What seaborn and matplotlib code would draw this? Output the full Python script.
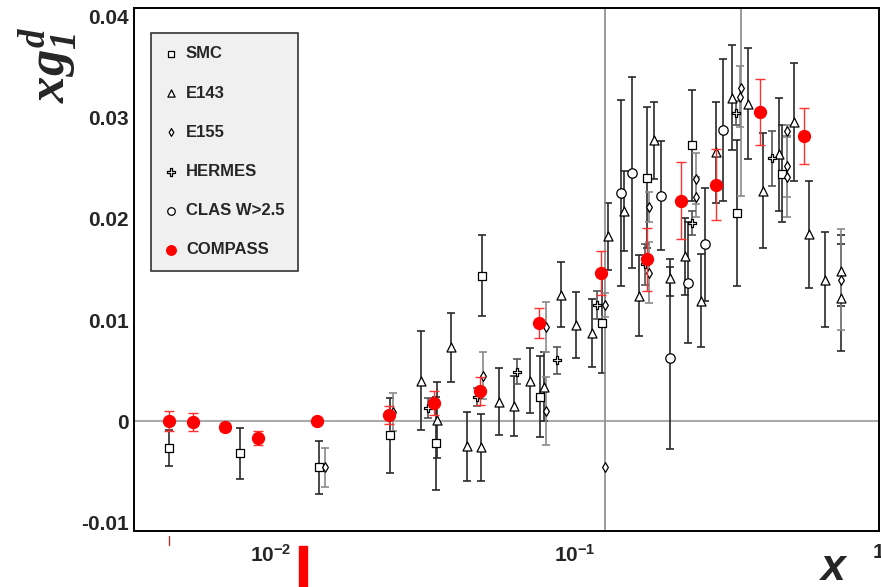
import matplotlib
matplotlib.use("Agg")
import matplotlib.pyplot as plt
from matplotlib.lines import Line2D
from matplotlib.patches import Rectangle
from matplotlib.ticker import MultipleLocator, LogLocator, NullFormatter
import pandas as pd
import seaborn as sns

# ---- data: x, x*g1^d, stat. error ----
smc_x = [0.00462, 0.00791, 0.01439, 0.02463, 0.0349, 0.04946, 0.0767, 0.1227, 0.1725, 0.2426, 0.341, 0.4797]
smc_y = [-0.0027, -0.0032, -0.0046, -0.0014, -0.0022, 0.0144, 0.0024, 0.0097, 0.0241, 0.0273, 0.0206, 0.0245]
smc_err = [0.0018, 0.0025, 0.0026, 0.0037, 0.0046, 0.0040, 0.0040, 0.0049, 0.0070, 0.0055, 0.0072, 0.0048]

e143_x = [0.03114, 0.03517, 0.03909, 0.04413, 0.04908, 0.05623, 0.063, 0.0711, 0.0791, 0.0899,
          0.1008, 0.1137, 0.1284, 0.1449, 0.1623, 0.1819, 0.2054, 0.2301, 0.2597, 0.291,
          0.3284, 0.3708, 0.4154, 0.469, 0.5253, 0.5886, 0.6644, 0.75, 0.75]
e143_y = [0.0040, 0.0001, 0.0073, -0.0025, -0.0026, 0.0019, 0.0015, 0.0040, 0.0034, 0.0125,
          0.0095, 0.0087, 0.0183, 0.0208, 0.0124, 0.0278, 0.0142, 0.0163, 0.0119, 0.0266,
          0.0320, 0.0314, 0.0228, 0.0264, 0.0296, 0.0185, 0.0140, 0.0149, 0.0122]
e143_err = [0.0049, 0.0038, 0.0034, 0.0034, 0.0033, 0.0033, 0.0030, 0.0032, 0.0034, 0.0032,
            0.0033, 0.0034, 0.0033, 0.0040, 0.0040, 0.0038, 0.0018, 0.0038, 0.0046, 0.0050,
            0.0052, 0.0055, 0.0057, 0.0056, 0.0058, 0.0053, 0.0047, 0.0035, 0.0053]

e155_x = [0.01505, 0.02519, 0.04984, 0.0803, 0.0803, 0.1256, 0.1256, 0.1751, 0.1751,
          0.25, 0.25, 0.3517, 0.349, 0.4982, 0.4982, 0.4982, 0.75]
e155_y = [-0.0046, 0.0009, 0.0045, 0.0093, 0.0010, -0.0046, 0.0115, 0.0212, 0.0147,
          0.0240, 0.0222, 0.0330, 0.0321, 0.0287, 0.0252, 0.0242, 0.0140]
e155_err = [0.0019, 0.0019, 0.0023, 0.0025, 0.0034, 0.0600, 0.0012, 0.0015, 0.0030,
            0.0025, 0.0020, 0.0107, 0.0030, 0.0006, 0.0030, 0.0040, 0.0050]

hermes_x = [0.03284, 0.04761, 0.06446, 0.0873, 0.1181, 0.1699, 0.2426, 0.3385, 0.4446]
hermes_y = [0.0013, 0.0024, 0.0049, 0.0060, 0.0115, 0.0155, 0.0196, 0.0305, 0.0260]
hermes_err = [0.0010, 0.0009, 0.0012, 0.0013, 0.0014, 0.0020, 0.0012, 0.0012, 0.0027]

clas_x = [0.1417, 0.154, 0.1918, 0.2054, 0.2353, 0.2677, 0.3068]
clas_y = [0.0226, 0.0246, 0.0223, 0.0062, 0.0137, 0.0175, 0.0288]
clas_err = [0.0092, 0.0095, 0.0054, 0.0090, 0.0060, 0.0056, 0.0070]

compass_x = [0.00462, 0.00554, 0.00706, 0.00906, 0.01417, 0.02445, 0.03437, 0.04871,
             0.0761, 0.1218, 0.1725, 0.2233, 0.291, 0.4061, 0.5667]
compass_y = [0.0000, -0.0001, -0.0006, -0.0017, 0.0000, 0.0006, 0.0018, 0.0030,
             0.0097, 0.01465, 0.0160, 0.0218, 0.0234, 0.0306, 0.0282]
compass_err = [0.0010, 0.0009, 0.0004, 0.0007, 0.0003, 0.0009, 0.0012, 0.0014,
               0.0015, 0.0022, 0.0031, 0.0038, 0.0035, 0.0033, 0.0028]

ytick_vals = [-0.01, 0, 0.01, 0.02, 0.03, 0.04]
ytick_labels = ["-0.01", "0", "0.01", "0.02", "0.03", "0.04"]
xtick_vals = [0.01, 0.1, 1]
xtick_labels = [r"$\mathsf{10^{-2}}$", r"$\mathsf{10^{-1}}$", "1"]

sns.set_theme(style="white")
plt.rcParams["font.family"] = ["Liberation Sans", "DejaVu Sans"]
plt.rcParams["mathtext.fontset"] = "custom"
plt.rcParams["mathtext.it"] = "Liberation Serif:bold:italic"
plt.rcParams["mathtext.rm"] = "Liberation Serif:bold:italic"
plt.rcParams["mathtext.sf"] = "Liberation Sans:bold"

fig = plt.figure(figsize=(8.81, 5.87), dpi=100)
ax = fig.add_axes([134 / 881, 1 - 531 / 587, 745 / 881, 523 / 587])

ax.axhline(0, color="#aaaaaa", lw=1.5, zorder=1)

# (label, x, y, err, marker, size, face, edge, bar colour)
series = [
    ("SMC", smc_x, smc_y, smc_err, "s", 30, "white", "black", "#2a2a2a"),
    ("E143", e143_x, e143_y, e143_err, "^", 42, "white", "black", "#2a2a2a"),
    ("E155", e155_x, e155_y, e155_err, "d", 24, "white", "black", "#8a8a8a"),
    ("HERMES", hermes_x, hermes_y, hermes_err, "P", 40, "white", "black", "#555555"),
    ("CLAS W>2.5", clas_x, clas_y, clas_err, "o", 46, "white", "black", "#2a2a2a"),
    ("COMPASS", compass_x, compass_y, compass_err, "o", 75, "#ff0000", "#ff0000", "#ff3030"),
]

for label, xs, ys, errs, mk, sz, face, edge, bar in series:
    df = pd.DataFrame({"x": xs, "y": ys, "err": errs})
    red = label == "COMPASS"
    ax.errorbar(df["x"], df["y"], yerr=df["err"], fmt="none", ecolor=bar,
                elinewidth=1.0 if red else 1.2, capsize=3.5 if red else 3,
                capthick=1.0 if red else 1.2, zorder=4 if red else 2)
    sns.scatterplot(data=df, x="x", y="y", marker=mk, s=sz, color=face,
                    edgecolor=edge, linewidth=0.9, ax=ax, label=label,
                    zorder=5 if red else 3)

ax.set_xscale("log")
ax.set_xlim(0.00354, 1.0)
ax.set_ylim(-0.01089, 0.04089)
ax.set_xlabel("")
ax.set_ylabel("")

ax.set_yticks(ytick_vals, labels=ytick_labels)
ax.yaxis.set_minor_locator(MultipleLocator(0.002))
ax.set_xticks(xtick_vals, labels=xtick_labels)
ax.xaxis.set_minor_locator(LogLocator(base=10, subs=range(2, 10)))
ax.xaxis.set_minor_formatter(NullFormatter())

ax.tick_params(axis="both", which="both", direction="in", top=False, right=False,
               color="#444444", width=1.0)
ax.tick_params(axis="y", which="major", length=16, pad=4, labelsize=15)
ax.tick_params(axis="y", which="minor", length=9)
ax.tick_params(axis="x", which="major", length=19, pad=9, labelsize=15)
ax.tick_params(axis="x", which="minor", length=9)
for lab in ax.get_yticklabels() + ax.get_xticklabels():
    lab.set_fontweight("bold")

for sp in ax.spines.values():
    sp.set_color("black")
    sp.set_linewidth(1.4)

leg = ax.legend(loc="upper left", bbox_to_anchor=(0.0228, 0.952), frameon=True,
                fancybox=False, framealpha=1, facecolor="#f0f0f0", edgecolor="#333333",
                prop={"weight": "bold", "size": 12}, labelspacing=1.45,
                handlelength=0.8, handletextpad=0.5, borderpad=0.8,
                markerscale=0.8, borderaxespad=0)
leg.get_frame().set_linewidth(1.2)

fig.text(48 / 881, 1 - 27 / 587, r"$xg_1^d$", rotation=90, fontsize=38,
         ha="center", va="top")
fig.text(833 / 881, 1 - 568 / 587, "x", fontsize=32, fontweight="bold",
         fontstyle="italic", ha="center", va="center")

# slide remnants under the frame
fig.add_artist(Rectangle((299 / 881, 0), 8 / 881, 41 / 587, color="#ff0000",
                         transform=fig.transFigure))
fig.add_artist(Line2D([169 / 881, 169 / 881], [1 - 545 / 587, 1 - 536 / 587],
                      color="#b03030", lw=1, transform=fig.transFigure))

fig.savefig("out.png", dpi=100)
